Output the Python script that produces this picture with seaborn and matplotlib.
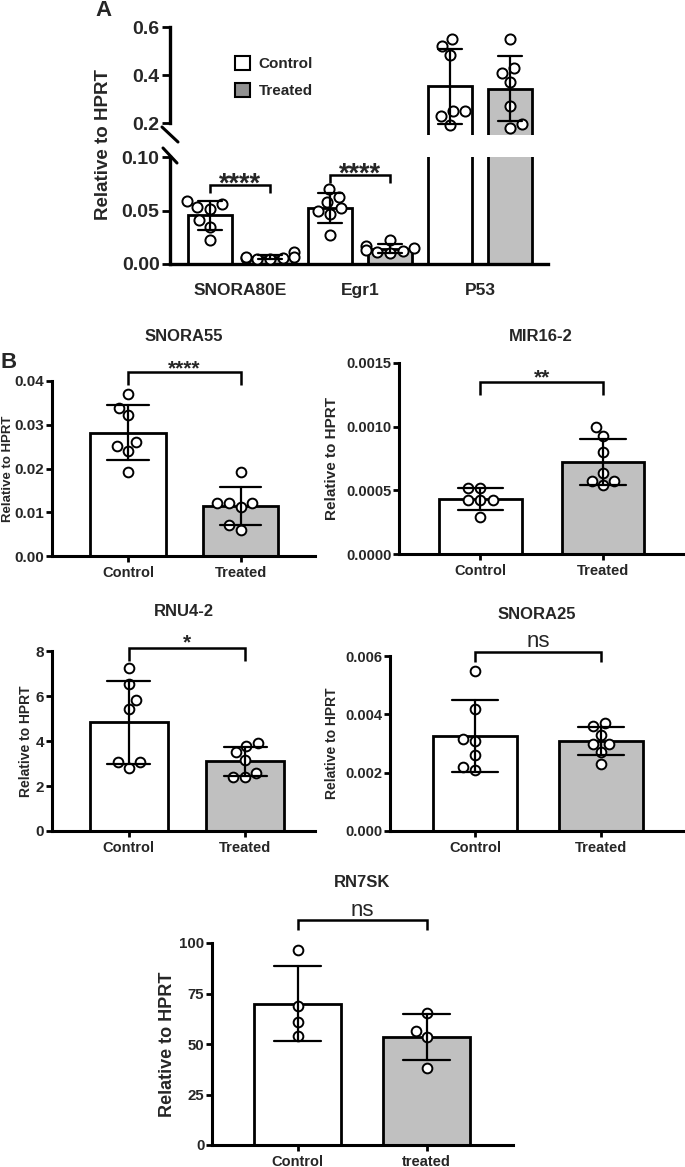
import numpy as np
import pandas as pd
import matplotlib
matplotlib.use("Agg")
import matplotlib.pyplot as plt
from matplotlib.lines import Line2D
from matplotlib.patches import Patch
import seaborn as sns

sns.set_theme(style="ticks")
plt.rcParams["font.family"] = ["Liberation Sans", "DejaVu Sans"]
plt.rcParams["font.weight"] = "bold"
plt.rcParams["axes.labelweight"] = "bold"

# ---------------- data ----------------
conditions = ["Control", "Treated"]

genes_a = ["SNORA80E", "Egr1", "P53"]
snora80e_control = [0.0515, 0.056, 0.059, 0.053, 0.041, 0.035, 0.022]
snora80e_treated = [0.011, 0.006, 0.005, 0.007, 0.006, 0.005, 0.007]
egr1_control = [0.063, 0.070, 0.058, 0.052, 0.047, 0.050, 0.027]
egr1_treated = [0.022, 0.017, 0.015, 0.013, 0.011, 0.010, 0.012]
p53_control = [0.552, 0.521, 0.483, 0.248, 0.228, 0.248, 0.193]
p53_treated = [0.549, 0.428, 0.410, 0.372, 0.269, 0.197, 0.179]

snora55_control = [0.0371, 0.0339, 0.0322, 0.0251, 0.0261, 0.0240, 0.0191]
snora55_treated = [0.0191, 0.0122, 0.0122, 0.0122, 0.0111, 0.0060, 0.0070]
mir16_control = [0.000517, 0.000517, 0.000425, 0.000425, 0.000425, 0.000289]
mir16_treated = [0.000997, 0.000923, 0.000800, 0.000640, 0.000577, 0.000543, 0.000577]
rnu42_control = [7.23, 6.52, 5.82, 5.41, 3.05, 3.05, 2.81]
rnu42_treated = [3.92, 3.49, 3.77, 3.15, 2.59, 2.38, 2.41]
snora25_control = [0.00549, 0.00420, 0.00308, 0.00317, 0.00260, 0.00208, 0.00218]
snora25_treated = [0.00370, 0.00360, 0.00330, 0.00300, 0.00300, 0.00270, 0.00230]
rn7sk_control = [96.7, 68.6, 60.8, 54.0]
rn7sk_treated = [65.3, 56.2, 53.7, 38.0]

labels_b = ["Control", "Treated"]
labels_rn7sk = ["Control", "treated"]

# ---------------- style ----------------
W, H = 685, 1167
GRAY = "#c0c0c0"
LEG_GRAY = "#909090"

fig = plt.figure(figsize=(W / 100, H / 100), dpi=100)


def add_ax(left, top, right, bottom):
    return fig.add_axes([left / W, 1 - bottom / H, (right - left) / W, (bottom - top) / H])


def style_ax(ax, lw=2.2):
    sns.despine(ax=ax)
    for s in ("left", "bottom"):
        ax.spines[s].set_linewidth(lw)
        ax.spines[s].set_color("black")
    ax.set_xlabel("")
    ax.set_ylabel("")


def fig_line(p0, p1, lw=2.2):
    fig.add_artist(Line2D([p0[0] / W, p1[0] / W], [1 - p0[1] / H, 1 - p1[1] / H],
                          transform=fig.transFigure, color="black", lw=lw))


def bracket(ax, x0, x1, y, drop, text, size, weight, off_pt, lw=1.8):
    ax.plot([x0, x0, x1, x1], [y - drop, y, y, y - drop], color="black", lw=lw,
            clip_on=False, solid_capstyle="butt", solid_joinstyle="miter")
    ax.annotate(text, xy=((x0 + x1) / 2, y), xytext=(0, off_pt), textcoords="offset points",
                ha="center", va="baseline", fontsize=size, fontweight=weight,
                annotation_clip=False)


def draw(ax, df, x, order, palette, width, capsize, hue, psize=7):
    sns.barplot(data=df, x=x, y="value", hue=hue, order=order, palette=palette,
                width=width, errorbar="sd", capsize=capsize, saturation=1,
                edgecolor="black", linewidth=2.0, legend=False, ax=ax,
                err_kws={"color": "black", "linewidth": 1.6, "zorder": 4})
    sns.swarmplot(data=df, x=x, y="value", order=order, color="white",
                  edgecolor="black", linewidth=1.4, size=psize, ax=ax, zorder=3)


# ---------------- panel A ----------------
rows = []
vals_a = {("SNORA80E", "Control"): snora80e_control, ("SNORA80E", "Treated"): snora80e_treated,
          ("Egr1", "Control"): egr1_control, ("Egr1", "Treated"): egr1_treated,
          ("P53", "Control"): p53_control, ("P53", "Treated"): p53_treated}
slots = []
for g in genes_a:
    for c in conditions:
        slots.append(f"{g} {c}")
        for v in vals_a[(g, c)]:
            rows.append({"slot": f"{g} {c}", "condition": c, "value": v})
df_a = pd.DataFrame(rows)
pal_a = {"Control": "white", "Treated": GRAY}

ax_up = add_ax(170, 27, 548, 135)
ax_lo = add_ax(170, 157, 548, 264)
for ax in (ax_up, ax_lo):
    draw(ax, df_a, "slot", slots, pal_a, 0.73, 0.4, "condition", psize=7.3)
    style_ax(ax, lw=2.4)
    ax.set_xlim(-0.667, 5.63)
    ax.tick_params(axis="y", length=6, width=2, labelsize=14, pad=1.5, color="black")

ax_up.set_ylim(0.15, 0.6)
ax_up.set_yticks([0.2, 0.4, 0.6])
ax_up.set_yticklabels(["0.2", "0.4", "0.6"])
ax_up.spines["bottom"].set_visible(False)
ax_up.spines["left"].set_bounds(0.2, 0.6)
ax_up.tick_params(axis="x", bottom=False, labelbottom=False)

ax_lo.set_ylim(0, 0.10)
ax_lo.set_yticks([0, 0.05, 0.10])
ax_lo.set_yticklabels(["0.00", "0.05", "0.10"])
ax_lo.set_xticks([0.5, 2.5, 4.5])
ax_lo.set_xticklabels(genes_a)
ax_lo.tick_params(axis="x", length=0, labelsize=12.5, pad=14)

# axis break marks
fig_line((162, 127), (178, 142))
fig_line((163, 148), (177, 163))

fig.text(103 / W, 1 - 144 / H, "Relative to HPRT", rotation=90, ha="center", va="center",
         fontsize=13.5, fontweight="bold")
fig.text(103 / W, 1 - 11 / H, "A", ha="center", va="center", fontsize=16, fontweight="bold")

drop_a = 8 / 107 * 0.10
bracket(ax_lo, 0, 1, max(snora80e_control) + 0.0145, drop_a, "****", 19.5, "bold", -4.5)
bracket(ax_lo, 2, 3, max(egr1_control) + 0.013, drop_a, "****", 19.5, "bold", -4.5)

leg = ax_up.legend(handles=[Patch(facecolor="white", edgecolor="black", lw=1.5, label="Control"),
                            Patch(facecolor=LEG_GRAY, edgecolor="black", lw=1.5, label="Treated")],
                   loc="upper left", bbox_to_anchor=((235 - 170) / 378, 1 - (56 - 27) / 108),
                   frameon=False, fontsize=11, handlelength=1.0, handleheight=1.0,
                   labelspacing=0.8, handletextpad=0.55, borderpad=0, borderaxespad=0)
for t in leg.get_texts():
    t.set_fontweight("bold")

# ---------------- panel B ----------------
specs = [
    dict(title="SNORA55", box=(52, 381, 315, 556), pad=28.8, labels=labels_b,
         ctrl=snora55_control, trt=snora55_treated, ylim=(0, 0.04),
         yticks=[0, 0.01, 0.02, 0.03, 0.04], fmt="{:.2f}", ylx=8, yls=9.5, tls=11,
         xlim=(-0.676, 1.662), by=0.042, drop=13, sig="****", ss=15, sw="bold", so=-1.5),
    dict(title="MIR16-2", box=(399, 363, 683, 554), pad=15.8, labels=labels_b,
         ctrl=mir16_control, trt=mir16_treated, ylim=(0, 0.0015),
         yticks=[0, 0.0005, 0.0010, 0.0015], fmt="{:.4f}", ylx=332, yls=11, tls=10.5,
         xlim=(-0.665, 1.653), by=0.00135, drop=13, sig="**", ss=15, sw="bold", so=-0.8),
    dict(title="RNU4-2", box=(52, 651, 315, 831), pad=25, labels=labels_b,
         ctrl=rnu42_control, trt=rnu42_treated, ylim=(0, 8),
         yticks=[0, 2, 4, 6, 8], fmt="{:.0f}", ylx=26, yls=10, tls=11,
         xlim=(-0.66, 1.60), by=8.15, drop=13, sig="*", ss=15, sw="bold", so=-0.8),
    dict(title="SNORA25", box=(390, 656, 683, 831), pad=27, labels=labels_b,
         ctrl=snora25_control, trt=snora25_treated, ylim=(0, 0.006),
         yticks=[0, 0.002, 0.004, 0.006], fmt="{:.3f}", ylx=332, yls=10, tls=10.5,
         xlim=(-0.675, 1.65), by=0.00613, drop=10, sig="ns", ss=16, sw="normal", so=3.5),
    dict(title="RN7SK", box=(212, 943, 513, 1145), pad=40, labels=labels_rn7sk,
         ctrl=rn7sk_control, trt=rn7sk_treated, ylim=(0, 100),
         yticks=[0, 25, 50, 75, 100], fmt="{:.0f}", ylx=168, yls=13, tls=10.8,
         xlim=(-0.663, 1.67), by=111.6, drop=10, sig="ns", ss=16, sw="normal", so=2.5),
]

for sp in specs:
    l, t, r, b = sp["box"]
    ax = add_ax(l, t, r, b)
    labs = sp["labels"]
    df = pd.DataFrame({"group": [labs[0]] * len(sp["ctrl"]) + [labs[1]] * len(sp["trt"]),
                       "value": list(sp["ctrl"]) + list(sp["trt"])})
    pal = {labs[0]: "white", labs[1]: GRAY}
    draw(ax, df, "group", labs, pal, 0.67, 0.37, "group")
    style_ax(ax)
    ax.set_xlim(*sp["xlim"])
    ax.set_ylim(*sp["ylim"])
    ax.set_yticks(sp["yticks"])
    ax.set_yticklabels([sp["fmt"].format(v) for v in sp["yticks"]])
    ax.tick_params(axis="y", length=4, width=2, labelsize=sp["tls"], pad=1.5, color="black")
    ax.tick_params(axis="x", length=4.5, width=2, labelsize=10.5, pad=2.5, color="black")
    ax.set_title(sp["title"], fontsize=12, fontweight="bold", pad=sp["pad"])
    ax.set_ylabel("Relative to HPRT", fontsize=sp["yls"], fontweight="bold")
    ax.yaxis.label.set_va("center")
    ax.yaxis.set_label_coords((sp["ylx"] - l) / (r - l), 0.5)
    rng = sp["ylim"][1] - sp["ylim"][0]
    bracket(ax, 0, 1, sp["by"], sp["drop"] / (b - t) * rng, sp["sig"], sp["ss"], sp["sw"], sp["so"])

fig.text(9 / W, 1 - 362 / H, "B", ha="center", va="center", fontsize=16, fontweight="bold")

fig.savefig("out.png", dpi=100)
